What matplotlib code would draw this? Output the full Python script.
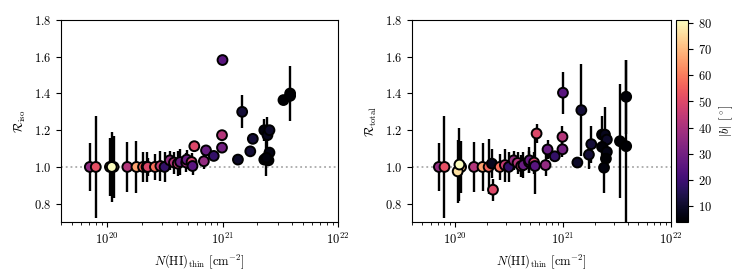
import matplotlib
matplotlib.use("Agg")
import matplotlib.pyplot as plt
import numpy as np

plt.rcParams.update({
    "font.family": "serif",
    "font.serif": ["cmr10"],
    "mathtext.fontset": "cm",
    "axes.formatter.use_mathtext": True,
    "font.size": 9,
})

# column density N(HI)_thin [cm^-2]
nhi = [7.1e19, 8.0e19, 1.14e20, 1.06e20, 1.1e20, 1.5e20, 1.8e20, 2.05e20, 2.2e20, 2.25e20,
       2.6e20, 2.9e20, 3.15e20, 3.5e20, 3.8e20, 4.1e20, 4.3e20, 4.85e20, 4.9e20, 5.4e20,
       5.5e20, 5.7e20, 6.9e20, 7.2e20, 8.4e20, 9.9e20, 9.9e20, 1.0e21, 1.36e21, 1.48e21,
       1.74e21, 1.83e21, 2.3e21, 2.45e21, 2.55e21, 2.3e21, 2.55e21, 2.5e21, 2.4e21,
       3.37e21, 3.85e21, 3.85e21]
# galactic latitude |b| [deg]
lat = [36, 52, 72, 76, 81, 42, 66, 56, 8, 50,
       58, 46, 18, 36, 42, 46, 28, 40, 28, 48,
       25, 50, 36, 28, 18, 30, 42, 25, 10, 12,
       12, 12, 6, 8, 10, 5, 7, 4, 6,
       4, 5, 4]
r_iso = [1.0, 1.0, 1.0, 1.0, 1.0, 1.0, 1.0, 1.0, 1.0, 1.0,
         1.0, 1.005, 1.0, 1.036, 1.024, 1.018, 1.027, 1.024, 1.04, 1.027,
         1.005, 1.113, 1.031, 1.09, 1.06, 1.105, 1.173, 1.582, 1.04, 1.30,
         1.085, 1.153, 1.2, 1.173, 1.2, 1.04, 1.078, 1.036, 1.05,
         1.364, 1.40, 1.387]
r_iso_err = [0.13, 0.28, 0.17, 0.16, 0.19, 0.135, 0.14, 0.08, 0.08, 0.05,
             0.07, 0.08, 0.08, 0.05, 0.06, 0.07, 0.07, 0.05, 0.05, 0.05,
             0.05, 0.03, 0.04, 0.03, 0.02, 0.03, 0.03, 0.01, 0.03, 0.09,
             0.02, 0.02, 0.06, 0.1, 0.03, 0.03, 0.03, 0.02, 0.1,
             0.02, 0.15, 0.02]
r_tot = [1.0, 1.0, 1.0, 0.976, 1.013, 1.0, 1.0, 1.0, 1.018, 0.876,
         1.0, 1.01, 1.0, 1.036, 1.022, 1.005, 1.01, 1.027, 1.036, 1.024,
         1.005, 1.182, 1.01, 1.095, 1.058, 1.096, 1.164, 1.404, 1.024, 1.309,
         1.067, 1.124, 1.176, 1.176, 1.149, 1.109, 1.082, 1.045, 0.996,
         1.14, 1.382, 1.113]
r_tot_err = [0.13, 0.28, 0.14, 0.17, 0.2, 0.135, 0.13, 0.15, 0.08, 0.06,
             0.07, 0.09, 0.08, 0.05, 0.06, 0.06, 0.07, 0.06, 0.07, 0.06,
             0.15, 0.05, 0.06, 0.05, 0.03, 0.04, 0.06, 0.115, 0.03, 0.25,
             0.08, 0.1, 0.1, 0.15, 0.05, 0.07, 0.06, 0.06, 0.14,
             0.31, 0.2, 0.47]

fig = plt.figure(figsize=(7.47, 2.8), dpi=100)
ax1 = fig.add_axes([0.0817, 0.207, 0.3708, 0.7216])
ax2 = fig.add_axes([0.5515, 0.207, 0.3467, 0.7216])
cax = fig.add_axes([0.905, 0.207, 0.0165, 0.7216])

vmin, vmax = min(lat), max(lat)
for ax, y, yerr, lab in [(ax1, r_iso, r_iso_err, r"$\mathcal{R}_{\rm iso}$"),
                         (ax2, r_tot, r_tot_err, r"$\mathcal{R}_{\rm total}$")]:
    ax.axhline(1.0, color="#aaaaaa", ls=":", lw=1.3, zorder=0)
    ax.errorbar(nhi, y, yerr=yerr, fmt="none", ecolor="black", elinewidth=1.7, capsize=0, zorder=1)
    sc = ax.scatter(nhi, y, c=lat, cmap="magma", vmin=vmin, vmax=vmax, s=50,
                    edgecolors="black", linewidths=1.4, zorder=2)
    ax.set_xscale("log")
    ax.set_xlim(4e19, 1e22)
    ax.set_ylim(0.7, 1.8)
    ax.set_yticks([0.8, 1.0, 1.2, 1.4, 1.6, 1.8])
    ax.set_ylabel(lab)
    ax.set_xlabel(r"$N(\mathrm{HI})_{\rm thin}$ [cm$^{-2}$]")

cb = fig.colorbar(sc, cax=cax)
cb.set_ticks([10, 20, 30, 40, 50, 60, 70, 80])
cb.set_label(r"$|b|$ [$^\circ$]")

fig.savefig("out.png", dpi=100)
